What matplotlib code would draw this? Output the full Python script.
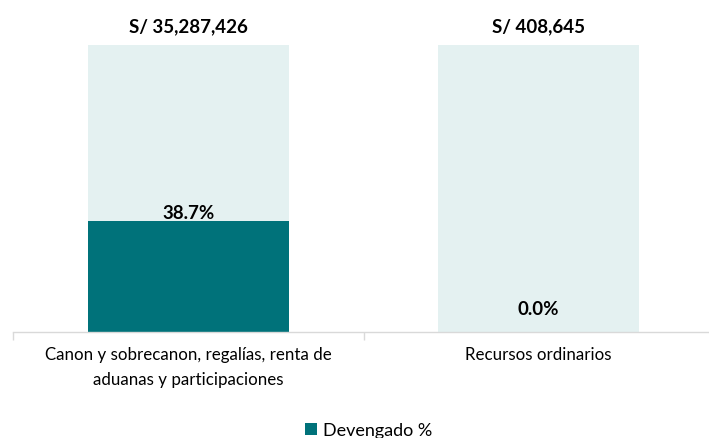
import numpy as np
import matplotlib
matplotlib.use("Agg")
import matplotlib.pyplot as plt

plt.rcParams["font.family"] = ["Lato", "DejaVu Sans"]

categories = ["Canon y sobrecanon, regalías, renta de\naduanas y participaciones",
              "Recursos ordinarios"]
devengado_pct = [38.7, 0.0]
totals = ["S/ 35,287,426", "S/ 408,645"]

TEAL = "#00727A"
LIGHT = "#E4F1F1"

fig = plt.figure(figsize=(7.09, 4.38), dpi=100)
ax = fig.add_axes([0.019, 0.242, 0.981, 0.655])

x = np.arange(len(categories))
w = 0.574
ax.bar(x, [100] * len(x), w, color=LIGHT, zorder=1)
ax.bar(x, devengado_pct, w, color=TEAL, zorder=2, label="Devengado %")

for xi, v, t in zip(x, devengado_pct, totals):
    ax.annotate(t, (xi, 100), xytext=(0, 7), textcoords="offset points",
                ha="center", va="bottom", fontsize=13.5, fontweight="bold",
                annotation_clip=False)
    ax.annotate(f"{v:.1f}%", (xi, v), xytext=(0, -1 if v > 0 else 10),
                textcoords="offset points", ha="center", va="bottom",
                fontsize=13.5, fontweight="bold")

ax.set_xlim(-0.5, 1.487)
ax.set_ylim(0, 100)
ax.set_yticks([])
ax.set_xticks(x)
ax.set_xticklabels(categories, fontsize=12.2, linespacing=1.65)
ax.tick_params(axis="x", which="major", length=0, pad=11)
ax.set_xticks([-0.5, 0.5], minor=True)
ax.tick_params(axis="x", which="minor", length=6, color="#D9D9D9", width=1)
for s in ["top", "right", "left"]:
    ax.spines[s].set_visible(False)
ax.spines["bottom"].set_color("#D9D9D9")
ax.spines["bottom"].set_linewidth(1)

ax.legend(loc="lower center", bbox_to_anchor=(0.52, -0.022), bbox_transform=fig.transFigure,
          frameon=False, fontsize=13, handlelength=0.65, handleheight=0.65,
          handletextpad=0.3, borderaxespad=0.1)

fig.savefig("out.png", dpi=100)
